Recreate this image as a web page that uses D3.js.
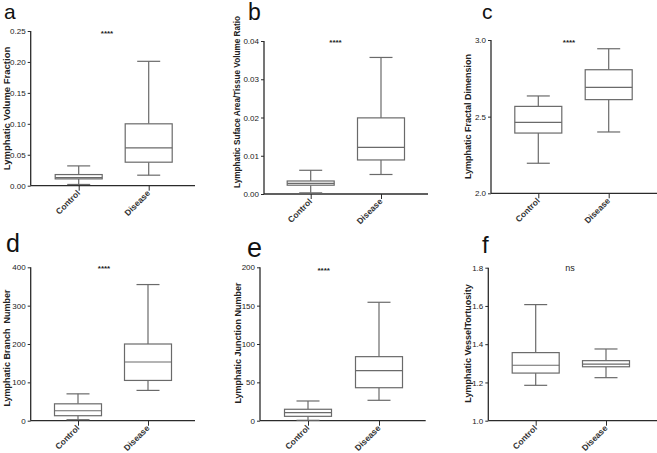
<!DOCTYPE html>
<html><head><meta charset="utf-8">
<script src="https://cdn.jsdelivr.net/npm/d3@7"></script>
<style>
body{margin:0;background:#fff;}
svg{display:block;font-family:"Liberation Sans",Arial,sans-serif;}
</style></head>
<body>
<script>
// ---- data ----
const categories = ["Control", "Disease"];
const panelLetters = ["a", "b", "c", "d", "e", "f"];
const yTitles = [
  "Lymphatic Volume Fraction",
  "Lymphatic Suface Area/Tissue Volume Ratio",
  "Lymphatic Fractal Dimension",
  "Lymphatic Branch  Number",
  "Lymphatic Junction Number",
  "Lymphatic VesselTortuosity"
];
const significance = ["****", "****", "****", "****", "****", "ns"];
// tick labels
const ticksA = [0, 0.05, 0.10, 0.15, 0.20, 0.25];
const ticksB = [0, 0.01, 0.02, 0.03, 0.04];
const ticksC = [2.0, 2.5, 3.0];
const ticksD = [0, 100, 200, 300, 400];
const ticksE = [0, 50, 100, 150, 200];
const ticksF = [1.0, 1.2, 1.4, 1.6, 1.8];
// box stats: [min, q1, median, q3, max]
const controlA = [0.002, 0.011, 0.013, 0.018, 0.032];
const diseaseA = [0.017, 0.038, 0.061, 0.100, 0.201];
const controlB = [0.0003, 0.0023, 0.0028, 0.0034, 0.0062];
const diseaseB = [0.0051, 0.0089, 0.0122, 0.0199, 0.0357];
const controlC = [2.196, 2.393, 2.463, 2.567, 2.635];
const diseaseC = [2.400, 2.611, 2.691, 2.806, 2.943];
const controlD = [2.6, 13, 26, 44, 70];
const diseaseD = [79, 105, 153, 200, 355];
const controlE = [0.5, 5.7, 10.4, 14.9, 25.7];
const diseaseE = [26.6, 43, 65.2, 83.5, 154.4];
const controlF = [1.185, 1.249, 1.290, 1.356, 1.607];
const diseaseF = [1.225, 1.282, 1.296, 1.314, 1.375];

const panelsData = [
  {ticks: ticksA, fmt: ".2f", boxes: [controlA, diseaseA]},
  {ticks: ticksB, fmt: ".2f", boxes: [controlB, diseaseB]},
  {ticks: ticksC, fmt: ".1f", boxes: [controlC, diseaseC]},
  {ticks: ticksD, fmt: "d", boxes: [controlD, diseaseD]},
  {ticks: ticksE, fmt: "d", boxes: [controlE, diseaseE]},
  {ticks: ticksF, fmt: ".1f", boxes: [controlF, diseaseF]}
];

// ---- layout (pixels) ----
const layout = [
  {ax: 30.7, xEnd: 195, top: 31, bot: 185.7, c1: 78.7, c2: 148.7, title: [6.5, 108.5], titleSize: 9.5, letter: [4, 19, 21], star: [107, 36]},
  {ax: 264, xEnd: 428, top: 41, bot: 194, c1: 310.7, c2: 381, title: [237.7, 102], titleSize: 8.2, letter: [248, 20, 23], star: [335.5, 45]},
  {ax: 491, xEnd: 657, top: 40, bot: 193.3, c1: 538.3, c2: 608.7, title: [468.3, 116.5], titleSize: 9, letter: [482, 19, 21], star: [569, 45]},
  {ax: 30.7, xEnd: 195, top: 267.3, bot: 420.7, c1: 78, c2: 148, title: [6.5, 348], titleSize: 9, letter: [6, 252, 25], star: [104, 270.5]},
  {ax: 260, xEnd: 425.7, top: 267.3, bot: 420.7, c1: 308, c2: 379, title: [237.5, 343], titleSize: 9, letter: [247, 257, 27], star: [323.7, 273]},
  {ax: 488.3, xEnd: 657, top: 267.7, bot: 420.7, c1: 535.7, c2: 606, title: [467.5, 343.5], titleSize: 9, letter: [482, 253, 24], star: [570, 271]}
];

const W = 657, H = 453;
const svg = d3.select("body").append("svg").attr("width", W).attr("height", H);

const axisColor = "#2b2b2b";
const boxColor = "#6a6a6a";
const boxW = 47, capW = 23;

panelsData.forEach((p, i) => {
  const L = layout[i];
  const g = svg.append("g");
  const ticks = p.ticks;
  const y = d3.scaleLinear().domain([ticks[0], ticks[ticks.length - 1]]).range([L.bot, L.top]);
  const x = d3.scalePoint().domain(categories).range([L.c1, L.c2]);

  // y axis
  const yAxis = d3.axisLeft(y).tickValues(ticks).tickSize(3).tickPadding(2).tickFormat(d3.format(p.fmt));
  const yg = g.append("g").attr("transform", `translate(${L.ax},0)`).call(yAxis);
  yg.select(".domain").remove();
  yg.selectAll(".tick line").attr("stroke", axisColor).attr("stroke-width", 1);
  yg.selectAll(".tick text").attr("fill", "#222").attr("font-size", 8).attr("font-family", "Liberation Sans, Arial, sans-serif");
  g.append("line").attr("x1", L.ax).attr("x2", L.ax).attr("y1", L.top).attr("y2", L.bot)
    .attr("stroke", axisColor).attr("stroke-width", 1.3);

  // x axis
  const xAxis = d3.axisBottom(x).tickSize(5).tickFormat("");
  const xg = g.append("g").attr("transform", `translate(0,${L.bot})`).call(xAxis);
  xg.select(".domain").remove();
  xg.selectAll(".tick line").attr("stroke", axisColor).attr("stroke-width", 1);
  g.append("line").attr("x1", L.ax).attr("x2", L.xEnd).attr("y1", L.bot).attr("y2", L.bot)
    .attr("stroke", axisColor).attr("stroke-width", 1.3);
  categories.forEach(c => {
    g.append("text")
      .attr("transform", `translate(${x(c) + 2},${L.bot + 8}) rotate(-45)`)
      .attr("text-anchor", "end")
      .attr("font-size", 8.5).attr("font-weight", "bold").attr("fill", "#333")
      .text(c);
  });

  // boxes
  p.boxes.forEach((b, j) => {
    const cx = x(categories[j]);
    const bg = g.append("g").attr("stroke", boxColor).attr("stroke-width", 1.2).attr("fill", "none");
    bg.append("line").attr("x1", cx).attr("x2", cx).attr("y1", y(b[3])).attr("y2", y(b[4]));
    bg.append("line").attr("x1", cx).attr("x2", cx).attr("y1", y(b[1])).attr("y2", y(b[0]));
    bg.append("line").attr("x1", cx - capW / 2).attr("x2", cx + capW / 2).attr("y1", y(b[4])).attr("y2", y(b[4]));
    bg.append("line").attr("x1", cx - capW / 2).attr("x2", cx + capW / 2).attr("y1", y(b[0])).attr("y2", y(b[0]));
    bg.append("rect").attr("x", cx - boxW / 2).attr("width", boxW)
      .attr("y", y(b[3])).attr("height", y(b[1]) - y(b[3])).attr("fill", "#fff");
    bg.append("line").attr("x1", cx - boxW / 2).attr("x2", cx + boxW / 2).attr("y1", y(b[2])).attr("y2", y(b[2]));
  });

  // y title
  g.append("text")
    .attr("transform", `translate(${L.title[0]},${L.title[1]}) rotate(-90)`)
    .attr("text-anchor", "middle").attr("dominant-baseline", "central")
    .attr("font-size", L.titleSize).attr("font-weight", "bold").attr("fill", "#222")
    .attr("xml:space", "preserve").style("white-space", "pre")
    .text(yTitles[i]);

  // panel letter
  g.append("text").attr("x", L.letter[0]).attr("y", L.letter[1])
    .attr("font-size", L.letter[2]).attr("fill", "#111")
    .text(panelLetters[i]);

  // significance
  g.append("text").attr("x", L.star[0]).attr("y", L.star[1])
    .attr("text-anchor", "middle")
    .attr("font-size", significance[i] === "ns" ? 9 : 8).attr("font-weight", significance[i] === "ns" ? "normal" : "bold")
    .attr("fill", "#222")
    .text(significance[i]);
});
</script>
</body></html>
